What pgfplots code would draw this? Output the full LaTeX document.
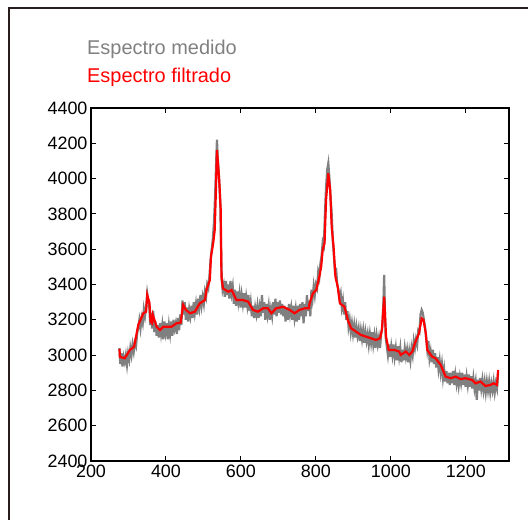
\documentclass[border=0pt]{standalone}
\usepackage{pgfplots}
\pgfplotsset{compat=1.18}
\usepackage{fontspec}
\setmainfont{Liberation Sans}
\definecolor{medgray}{RGB}{128,128,128}
\definecolor{framecol}{RGB}{40,28,28}
\begin{document}
\begin{tikzpicture}
\path[use as bounding box] (0,0) rectangle (528bp,520bp);
\draw[framecol, line width=1.3bp] (9bp,0) -- (9bp,512bp) -- (530bp,512bp);
\node[anchor=base west, text=medgray, font=\fontsize{20}{24}\selectfont, inner sep=0pt] at (87bp,465bp) {Espectro medido};
\node[anchor=base west, text=red, font=\fontsize{20}{24}\selectfont, inner sep=0pt] at (87bp,437bp) {Espectro filtrado};
\begin{axis}[
  at={(91bp,59bp)}, anchor=south west,
  scale only axis, width=418bp, height=353bp,
  xmin=200, xmax=1315, ymin=2400, ymax=4400,
  xtick={200,400,...,1200}, ytick={2400,2600,...,4400},
  tick align=inside, major tick length=5bp,
  axis line style={line width=1.6bp},
  every tick/.style={black, line width=1bp},
  tick label style={font=\fontsize{18}{20}\selectfont},
  /pgf/number format/assume math mode=true,
  /pgf/number format/1000 sep={},
  clip=true,
]
\addplot[medgray, line width=2.2bp] coordinates {
(276,3040)(278,2950)(281,3010)(284,2935)(287,2990)(290,2960)(293,3000)(296,2945)(299,3010)(302,2975)
(305,3040)(308,3000)(311,3060)(314,3020)(317,3070)(320,3050)(323,3120)(326,3160)(329,3200)(332,3150)
(335,3210)(338,3180)(341,3260)(344,3220)(347,3270)(350,3350)(352,3320)(355,3290)(358,3170)(361,3240)
(363,3150)(366,3250)(369,3130)(372,3190)(375,3110)(378,3170)(381,3100)(384,3180)(387,3120)(390,3170)
(393,3090)(396,3190)(399,3130)(402,3180)(405,3090)(408,3170)(411,3120)(414,3190)(417,3110)(420,3200)
(423,3150)(426,3180)(429,3120)(432,3210)(435,3140)(438,3230)(441,3170)(444,3310)(447,3230)(450,3300)
(453,3200)(456,3270)(459,3190)(462,3260)(465,3220)(468,3280)(471,3210)(474,3300)(477,3240)(480,3290)
(483,3230)(486,3320)(489,3270)(492,3340)(495,3280)(498,3330)(501,3290)(504,3360)(507,3330)(510,3400)
(513,3380)(516,3450)(519,3540)(522,3600)(525,3660)(528,3750)(531,3900)(534,4100)(536,4220)(538,4120)
(540,4060)(543,3950)(545,3850)(547,3600)(549,3420)(551,3370)(554,3400)(557,3330)(560,3420)(563,3340)
(566,3400)(569,3320)(572,3420)(575,3350)(578,3390)(581,3290)(584,3370)(587,3280)(590,3360)(593,3300)
(596,3350)(599,3270)(602,3340)(605,3290)(608,3350)(611,3270)(614,3330)(617,3280)(620,3340)(623,3250)
(626,3300)(629,3220)(632,3280)(635,3210)(638,3270)(641,3230)(644,3280)(647,3210)(650,3270)(653,3220)
(656,3340)(659,3240)(662,3300)(665,3200)(668,3290)(671,3230)(674,3280)(677,3200)(680,3260)(683,3220)
(686,3300)(689,3230)(692,3320)(695,3220)(698,3300)(701,3240)(704,3310)(707,3230)(710,3290)(713,3220)
(716,3280)(719,3190)(722,3270)(725,3200)(728,3290)(731,3230)(734,3270)(737,3200)(740,3280)(743,3210)
(746,3260)(749,3190)(752,3280)(755,3200)(758,3290)(761,3220)(764,3300)(767,3180)(770,3290)(773,3220)
(776,3340)(779,3250)(782,3310)(785,3220)(788,3370)(791,3320)(794,3390)(797,3340)(800,3400)(803,3380)
(806,3470)(809,3440)(812,3520)(815,3560)(818,3640)(821,3620)(824,3800)(827,3950)(830,4050)(833,4087)
(836,4000)(839,3900)(842,3800)(845,3650)(848,3560)(851,3470)(854,3480)(857,3400)(860,3370)(863,3320)
(866,3350)(869,3270)(872,3310)(875,3230)(878,3300)(881,3200)(884,3250)(887,3160)(890,3200)(893,3130)
(896,3180)(899,3120)(902,3170)(905,3100)(908,3160)(911,3110)(914,3150)(917,3080)(920,3140)(923,3090)
(926,3140)(929,3070)(932,3130)(935,3080)(938,3120)(941,3060)(944,3120)(947,3070)(950,3130)(953,3060)
(956,3110)(959,3040)(962,3110)(965,3060)(968,3100)(971,3040)(974,3120)(977,3160)(980,3300)(982,3454)
(984,3250)(986,3100)(989,3050)(992,3000)(995,3060)(998,2990)(1001,3050)(1004,3000)(1007,3060)(1010,2990)
(1013,3040)(1016,2970)(1019,3050)(1022,2990)(1025,3040)(1028,2960)(1031,3030)(1034,2970)(1037,3040)(1040,2990)
(1043,3030)(1046,2960)(1049,3020)(1052,2970)(1055,3040)(1058,3000)(1061,3080)(1064,3040)(1067,3090)(1070,3060)
(1073,3140)(1076,3130)(1079,3230)(1082,3256)(1085,3240)(1088,3200)(1091,3160)(1094,3100)(1097,3030)(1100,3080)
(1103,2980)(1106,3020)(1109,2960)(1112,3030)(1115,2950)(1118,3010)(1121,2930)(1124,2990)(1127,2920)(1130,2970)
(1133,2900)(1136,2950)(1139,2870)(1142,2920)(1145,2850)(1148,2910)(1151,2840)(1154,2900)(1157,2830)(1160,2900)
(1163,2840)(1166,2910)(1169,2830)(1172,2890)(1175,2840)(1178,2900)(1181,2830)(1184,2880)(1187,2840)(1190,2900)
(1193,2830)(1196,2890)(1199,2820)(1202,2880)(1205,2830)(1208,2890)(1211,2820)(1214,2880)(1217,2810)(1220,2870)
(1223,2810)(1226,2850)(1229,2746)(1232,2860)(1235,2800)(1238,2870)(1241,2810)(1244,2860)(1247,2800)(1250,2850)
(1253,2790)(1256,2850)(1259,2800)(1262,2850)(1265,2790)(1268,2840)(1271,2800)(1274,2850)(1277,2790)(1280,2840)
(1283,2810)(1286,2900)
};
\addplot[red, line width=2.2bp] coordinates {
(276,3035)(277,2990)(290,2982)(304,3029)(315,3048)(326,3170)(340,3238)(347,3246)(350,3340)(356,3295)
(359,3189)(363,3180)(365,3227)(375,3161)(384,3142)(393,3161)(415,3161)(428,3180)(439,3184)(446,3284)
(453,3256)(464,3237)(477,3246)(490,3293)(504,3312)(508,3369)(517,3425)(520,3558)(526,3634)(530,3709)
(533,3917)(536,4162)(542,3992)(546,3822)(548,3444)(552,3378)(566,3359)(575,3369)(588,3312)(605,3312)
(619,3303)(632,3256)(645,3246)(659,3265)(672,3265)(681,3237)(694,3265)(712,3274)(730,3256)(743,3237)
(756,3256)(770,3265)(781,3265)(783,3293)(792,3350)(801,3369)(809,3444)(814,3501)(818,3596)(823,3634)
(827,3879)(833,4030)(838,3935)(842,3728)(847,3614)(852,3444)(858,3388)(864,3293)(876,3274)(885,3199)
(894,3152)(907,3133)(920,3114)(933,3105)(947,3095)(960,3086)(971,3095)(976,3142)(982,3331)(987,3105)
(994,3029)(1009,3029)(1022,3020)(1026,3001)(1040,3020)(1049,3001)(1057,3020)(1064,3067)(1075,3124)(1082,3208)
(1087,3199)(1093,3124)(1097,3029)(1110,2991)(1119,2982)(1133,2944)(1146,2878)(1159,2869)(1173,2878)(1186,2864)
(1199,2869)(1217,2859)(1226,2840)(1239,2850)(1252,2825)(1266,2831)(1274,2840)(1283,2831)(1286,2916)
};
\end{axis}
\end{tikzpicture}
\end{document}
